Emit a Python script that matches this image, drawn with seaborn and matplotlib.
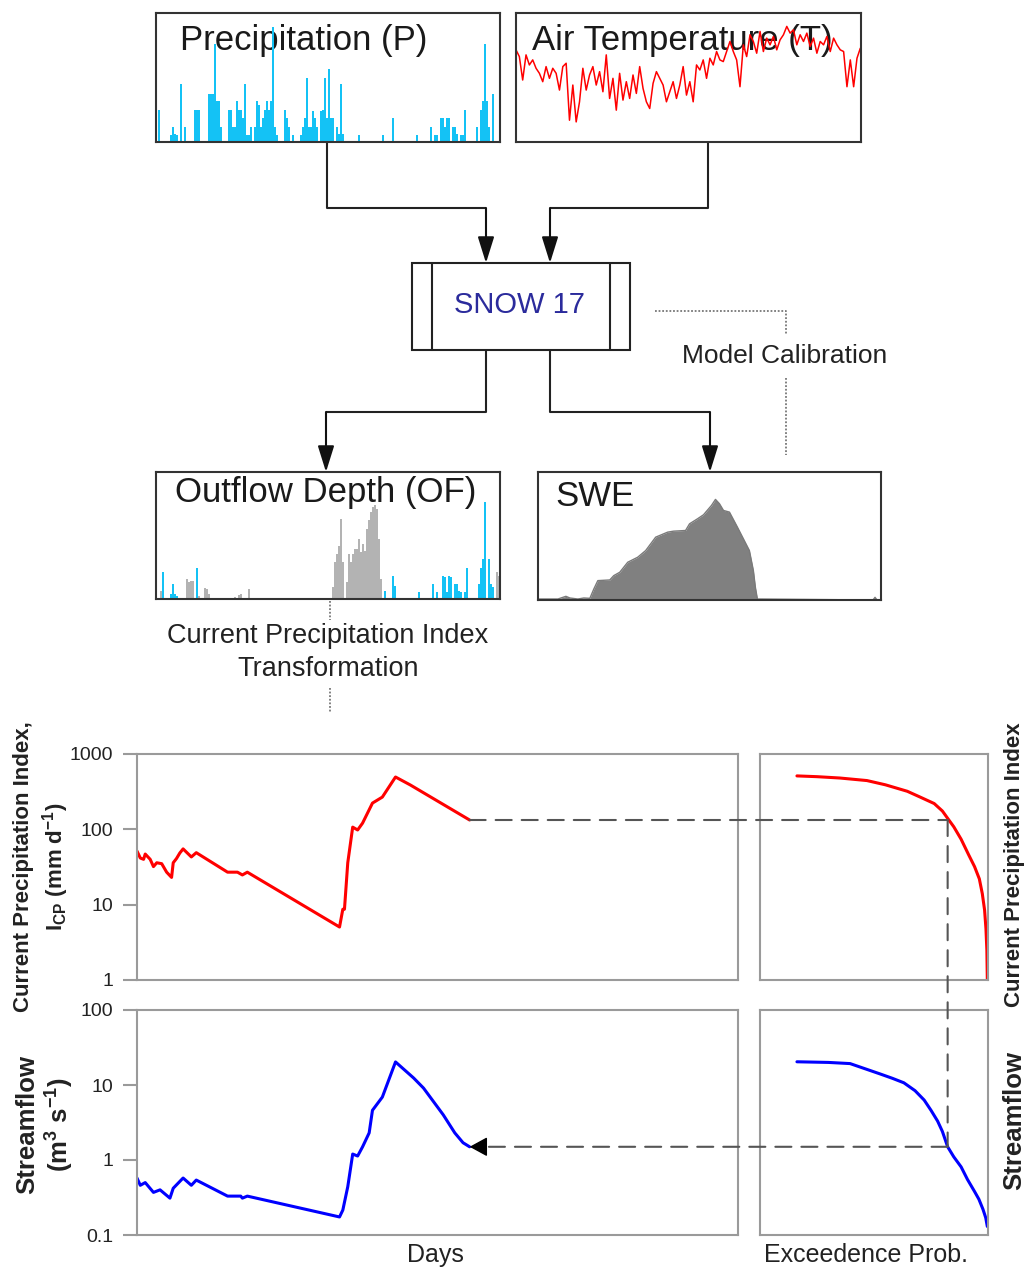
import numpy as np
import matplotlib
matplotlib.use("Agg")
import matplotlib.pyplot as plt
import seaborn as sns
from matplotlib.patches import ConnectionPatch, Rectangle
from matplotlib.ticker import NullLocator

# ---------------- data ----------------
# Precipitation (days, mm)
P_day = [1,7,8,9,10,12,14,19,20,21,26,27,28,29,30,31,32,36,37,38,39,40,41,42,43,44,45,46,47,
         49,50,51,52,53,54,55,56,57,58,59,60,64,65,66,68,72,73,74,75,76,77,78,79,80,82,83,84,85,
         86,87,88,90,91,92,93,101,113,118,130,137,139,140,142,143,144,145,146,148,149,150,152,153,
         154,160,162,163,164,165,166,168]
P_mm = [9.5,2,4.5,2.5,2,17,4.5,9.5,9.5,9.5,14,14,14,29,12,12,4.5,9.5,9.5,4.5,4.5,12,9.5,9.5,7,17,2,2,4.5,
        4.5,12,11,4.5,7,9.5,12,9.5,12,34,4.5,2,9.5,7,4.5,2,2,4.5,7,19,4.5,4.5,9,7,4.5,9,9.5,19,7,
        21.5,7,7,4.5,2.5,17,2.5,2,2,7,2,4.5,2,2,7,7,4.5,7,7,4.5,4.5,2.5,2,2,
        9.5,4.5,9.5,12,29,12,4.5,14]

# Air temperature (deg C), one value every 10/6 day
T_c = [15.5,13.5,6.5,14,11,12.5,10,8.5,6,10.5,7,10,8.5,3.5,10.5,11.5,-5.5,5,-6,0,10,3.5,8,10.5,5,9,3,14,
       1,7,-2.5,8.5,0.5,6,1,8,2.5,10.5,4,0,-2,5.5,9,7,5,0,3,6,1,5,10.5,2,6,0,11,9.5,12.5,7,13,11,15,
       12.5,12,15,18,15,12.5,4.5,17,13.5,20,18,14.5,21,15,19,17,19.5,15.5,18.5,20,22.5,20.5,21.5,17,
       20,18,20.5,16.5,19,14.5,18,17,19.5,15,19,17,15.5,15,4.5,12.5,4.5,13,16]
T_step = 10 / 6

# Outflow depth: rain-derived (blue) and melt (grey)
OFR_day = [3,7,8,9,10,20,114,118,119,131,138,140,143,144,145,146,147,149,150,151,152,154,155,
           161,162,163,164,166,167,168]
OFR_mm = [8,1.5,4.5,1.5,1,9.2,2.5,7,4,2,4.5,2,7,6.5,2,7,6.5,4.5,4.5,2.5,2,2,9.2,
          4.5,9.2,12,29,12,4.5,3.5]
OFM_day = [2,15,16,17,18,21,24,25,26,39,41,42,46,88,89,90,91,92,93,95,96,97,98,99,100,101,102,
           103,104,105,106,107,108,109,110,111,112,170,171]
OFM_mm = [2.5,6,5,5.5,5.5,1,3.2,3,1.5,0.5,1.2,1.5,3,3.5,11,13.5,16,24,11,5,13.5,11,13.5,15,15,18,14,
          16.5,14.5,21,23.5,26,27.5,28,27,18,6,8,7]

# Snow water equivalent
SWE_day = [0,10,14,16,20,23,26,28,30,36,38,41,45,50,54,59,65,68,74,76,80,83,87,89,91,93,96,100,
           103,106,108,109,110,168,169,170,172]
SWE_mm = [3,3,11,6,3,6,5,33,58,60,73,83,113,128,148,188,203,206,208,228,243,255,283,301,288,268,
          263,218,183,148,88,38,3,0,8,0,0]

# Current precipitation index (mm/d) and streamflow (m3/s) vs days
ICP_day = [0,2,4,5,8,10,12,15,18,21,22,24,26,28,33,36,55,61,64,67,123,125,126,128,131,134,137,
           143,149,157,166,202]
ICP_val = [51.5,41.6,40,47,40,32,36,35,27,23,36,41,48.5,55,43,49,27,27,24.8,27,5.05,8.7,8.7,36,
           107,98,121,223,268,495,388,133]
Q_day = [0,2,5,10,14,20,22,28,33,36,55,63,64,67,123,125,128,131,134,137,141,143,149,157,168,
         174,186,193,198,202]
Q_val = [0.575,0.46,0.5,0.37,0.4,0.31,0.42,0.575,0.46,0.54,0.33,0.33,0.31,0.33,0.174,0.215,0.44,
         1.2,1.13,1.5,2.3,4.6,6.9,20.3,12.4,9.1,4.0,2.3,1.7,1.5]

# Exceedence curves
EXC_P_icp = [0.162,0.25,0.35,0.469,0.55,0.646,0.70,0.764,0.80,0.823,0.85,0.882,0.915,0.941,
             0.962,0.975,0.985,0.991,0.995,0.997]
EXC_icp = [512,500,480,444,390,320,270,220,175,140,108,74,46,32,22,14,8.5,4.8,2.5,1.0]
EXC_P_q = [0.162,0.30,0.395,0.46,0.528,0.58,0.631,0.68,0.72,0.75,0.779,0.80,0.823,0.85,0.882,
           0.91,0.941,0.96,0.978,0.99,0.997]
EXC_q = [20.4,20.0,19.3,16.5,14,12.3,10.7,8.4,6.3,4.6,3.3,2.4,1.5,1.1,0.81,0.55,0.38,0.30,0.22,
         0.17,0.13]
CROSS_P = 0.823

# ---------------- style ----------------
sns.set_theme(style="white")
plt.rcParams["font.family"] = ["Liberation Sans", "DejaVu Sans"]
plt.rcParams["mathtext.fontset"] = "custom"
plt.rcParams["mathtext.rm"] = "Liberation Sans:bold"
plt.rcParams["mathtext.default"] = "rm"

W, H = 1026, 1272
fig = plt.figure(figsize=(W / 100, H / 100), dpi=100)
fig.patch.set_facecolor("white")


def rect(x0, y0, x1, y1):
    return [x0 / W, 1 - y1 / H, (x1 - x0) / W, (y1 - y0) / H]


BOX = "#333333"
SKY = "#14c2f5"
GREY = "#b3b3b3"


def finish_panel(ax, xlim, ylim):
    ax.set_xlim(*xlim)
    ax.set_ylim(*ylim)
    ax.set_xticks([])
    ax.set_yticks([])
    ax.set_xlabel("")
    ax.set_ylabel("")
    for s in ax.spines.values():
        s.set_visible(True)
        s.set_color(BOX)
        s.set_linewidth(1.5)
        s.set_zorder(5)


# overlay for flow-chart lines
ov = fig.add_axes([0, 0, 1, 1], zorder=-1)
ov.set_xlim(0, W)
ov.set_ylim(H, 0)
ov.axis("off")

# --- Precipitation panel ---
axP = fig.add_axes(rect(156, 13, 500, 142))
sns.barplot(x=P_day, y=P_mm, native_scale=True, width=0.9, color=SKY, saturation=1,
            errorbar=None, linewidth=0, ax=axP, zorder=2)
finish_panel(axP, (-0.5, 171.5), (0, 38))
axP.text(0.07, 0.79, "Precipitation (P)", transform=axP.transAxes, fontsize=25,
         va="center", ha="left", color="#1a1a1a", zorder=0.5)

# --- Air temperature panel ---
axT = fig.add_axes(rect(516, 13, 861, 142))
T_day = np.arange(len(T_c)) * T_step
sns.lineplot(x=T_day, y=T_c, color="red", lw=1.1, ax=axT, zorder=2)
finish_panel(axT, (0, 172), (-12, 26.5))
axT.text(0.046, 0.79, "Air Temperature (T)", transform=axT.transAxes, fontsize=25,
         va="center", ha="left", color="#1a1a1a", zorder=0.5)

# --- Outflow depth panel ---
axO = fig.add_axes(rect(156, 472, 500, 599))
sns.barplot(x=OFM_day, y=OFM_mm, native_scale=True, width=1.0, color=GREY, saturation=1,
            errorbar=None, linewidth=0, ax=axO, zorder=2)
sns.barplot(x=OFR_day, y=OFR_mm, native_scale=True, width=0.9, color=SKY, saturation=1,
            errorbar=None, linewidth=0, ax=axO, zorder=2)
finish_panel(axO, (-0.5, 171.5), (0, 38))
axO.text(0.055, 0.835, "Outflow Depth (OF)", transform=axO.transAxes, fontsize=25,
         va="center", ha="left", color="#1a1a1a", zorder=0.5)

# --- SWE panel ---
axS = fig.add_axes(rect(538, 472, 881, 600))
sns.lineplot(x=SWE_day, y=SWE_mm, color="#7a7a7a", lw=1, ax=axS)
axS.fill_between(SWE_day, SWE_mm, 0, color="#808080", lw=0)
finish_panel(axS, (0, 172), (0, 383))
axS.text(0.052, 0.81, "SWE", transform=axS.transAxes, fontsize=25,
         va="center", ha="left", color="#1a1a1a", zorder=0.5)

# --- flow chart connectors ---
LC = "#222222"
LW = 1.5
AST = "-|>,head_length=0.8,head_width=0.25"


def path_arrow(pts):
    xs, ys = zip(*pts)
    ov.plot(xs[:-1], ys[:-1], color=LC, lw=LW, solid_capstyle="butt")
    ov.annotate("", xy=pts[-1], xytext=pts[-2],
                arrowprops=dict(arrowstyle=AST, color="#111111", lw=LW, mutation_scale=20,
                                shrinkA=0, shrinkB=0))


path_arrow([(327, 142), (327, 208), (486, 208), (486, 263)])
path_arrow([(708, 142), (708, 208), (550, 208), (550, 263)])
path_arrow([(486, 350), (486, 412), (326, 412), (326, 472)])
path_arrow([(550, 350), (550, 412), (710, 412), (710, 472)])

ov.add_patch(Rectangle((412, 263), 218, 87, fill=False, ec=LC, lw=LW))
ov.plot([432, 432], [263, 350], color=LC, lw=LW)
ov.plot([610, 610], [263, 350], color=LC, lw=LW)
ov.text(520, 305, "SNOW 17", fontsize=21, color="#2b2b9c", ha="center", va="center")

DOT = dict(color="#777777", lw=1.3, linestyle=(0, (1, 1)))
ov.plot([655, 786, 786], [311, 311, 335], **DOT)
ov.plot([786, 786], [378, 455], **DOT)
ov.text(785, 356, "Model Calibration", fontsize=19, color="#222222", ha="center", va="center")

ov.plot([330, 330], [601, 620], **DOT)
ov.plot([330, 330], [688, 712], **DOT)
ov.text(328, 636, "Current Precipitation Index", fontsize=19.5, color="#222222",
        ha="center", va="center")
ov.text(328, 669, "Transformation", fontsize=19.5, color="#222222", ha="center", va="center")

# ---------------- bottom charts ----------------
SP = "#9a9a9a"


def chart(r):
    ax = fig.add_axes(rect(*r))
    for s in ax.spines.values():
        s.set_visible(True)
        s.set_color(SP)
        s.set_linewidth(1.5)
    return ax


ax1 = chart((137, 754, 738, 980))
sns.lineplot(x=ICP_day, y=ICP_val, color="red", lw=2.2, ax=ax1)
ax1.set_yscale("log")
ax1.set_ylim(1, 1000)
ax1.set_xlim(0, 365)

ax2 = chart((137, 1010, 738, 1235))
sns.lineplot(x=Q_day, y=Q_val, color="blue", lw=2.2, ax=ax2)
ax2.set_yscale("log")
ax2.set_ylim(0.1, 100)
ax2.set_xlim(0, 365)

for ax, ticks, labs in ((ax1, [1, 10, 100, 1000], ["1", "10", "100", "1000"]),
                        (ax2, [0.1, 1, 10, 100], ["0.1", "1", "10", "100"])):
    ax.set_xticks([])
    ax.set_yticks(ticks)
    ax.set_yticklabels(labs)
    ax.yaxis.set_minor_locator(NullLocator())
    ax.tick_params(axis="y", which="major", left=True, direction="out", length=10, width=1.5,
                   color=SP, pad=7, labelsize=14, labelcolor="#222222")

ax1.set_xlabel("")
ax1.set_ylabel("Current Precipitation Index,\nI$_{CP}$ (mm d$^{-1}$)", fontsize=16,
               fontweight="bold", color="#222222", ha="center", va="center",
               multialignment="center", linespacing=1.25)
ax1.yaxis.set_label_coords(-0.158, 0.5)
ax1.yaxis.label.set_visible(True)

ax2.set_ylabel("Streamflow\n(m$^{3}$ s$^{-1}$)", fontsize=18.5, fontweight="bold",
               color="#222222", ha="center", va="center", multialignment="center",
               linespacing=1.15)
ax2.yaxis.set_label_coords(-0.152, 0.49)
ax2.yaxis.label.set_visible(True)
ax2.set_xlabel("Days", fontsize=18, color="#222222")
ax2.xaxis.set_label_coords(0.497, -0.035)
ax2.xaxis.label.set_visible(True)

ax3 = chart((760, 754, 988, 980))
sns.lineplot(x=EXC_P_icp, y=EXC_icp, color="red", lw=2.2, ax=ax3)
ax3.set_yscale("log")
ax3.set_ylim(1, 1000)
ax3.set_xlim(0, 1)
ax3.set_xticks([])
ax3.set_yticks([])
ax3.yaxis.set_minor_locator(NullLocator())
ax3.set_xlabel("")
ax3.yaxis.set_label_position("right")
ax3.set_ylabel("Current Precipitation Index", fontsize=16, fontweight="bold", color="#222222",
               ha="center", va="center", rotation=90)
ax3.yaxis.set_label_coords(1.115, 0.509)
ax3.yaxis.label.set_visible(True)

ax4 = chart((760, 1010, 988, 1235))
sns.lineplot(x=EXC_P_q, y=EXC_q, color="blue", lw=2.2, ax=ax4)
ax4.set_yscale("log")
ax4.set_ylim(0.1, 100)
ax4.set_xlim(0, 1)
ax4.set_xticks([])
ax4.set_yticks([])
ax4.yaxis.set_minor_locator(NullLocator())
ax4.yaxis.set_label_position("right")
ax4.set_ylabel("Streamflow", fontsize=18.5, fontweight="bold", color="#222222",
               ha="center", va="center", rotation=90)
ax4.yaxis.set_label_coords(1.115, 0.511)
ax4.yaxis.label.set_visible(True)
ax4.set_xlabel("Exceedence Prob.", fontsize=18, color="#222222")
ax4.xaxis.set_label_coords(0.465, -0.035)
ax4.xaxis.label.set_visible(True)

# dashed look-up path between the charts
DASH = dict(color="#555555", lw=1.5, linestyle=(0, (7.7, 4.8)))
c1 = ConnectionPatch(xyA=(ICP_day[-1], ICP_val[-1]), coordsA=ax1.transData,
                     xyB=(CROSS_P, ICP_val[-1]), coordsB=ax3.transData, **DASH)
c2 = ConnectionPatch(xyA=(CROSS_P, ICP_val[-1]), coordsA=ax3.transData,
                     xyB=(CROSS_P, Q_val[-1]), coordsB=ax4.transData, **DASH)
c3 = ConnectionPatch(xyA=(CROSS_P, Q_val[-1]), coordsA=ax4.transData,
                     xyB=(Q_day[-1] + 8, Q_val[-1]), coordsB=ax2.transData, **DASH)
for c in (c1, c2, c3):
    fig.add_artist(c)
ax2.annotate("", xy=(Q_day[-1], Q_val[-1]), xytext=(Q_day[-1] + 9, Q_val[-1]),
             arrowprops=dict(arrowstyle="-|>,head_length=0.55,head_width=0.3", color="black",
                             lw=1, mutation_scale=20, shrinkA=0, shrinkB=0),
             annotation_clip=False)

fig.savefig("out.png", dpi=100, facecolor="white")
